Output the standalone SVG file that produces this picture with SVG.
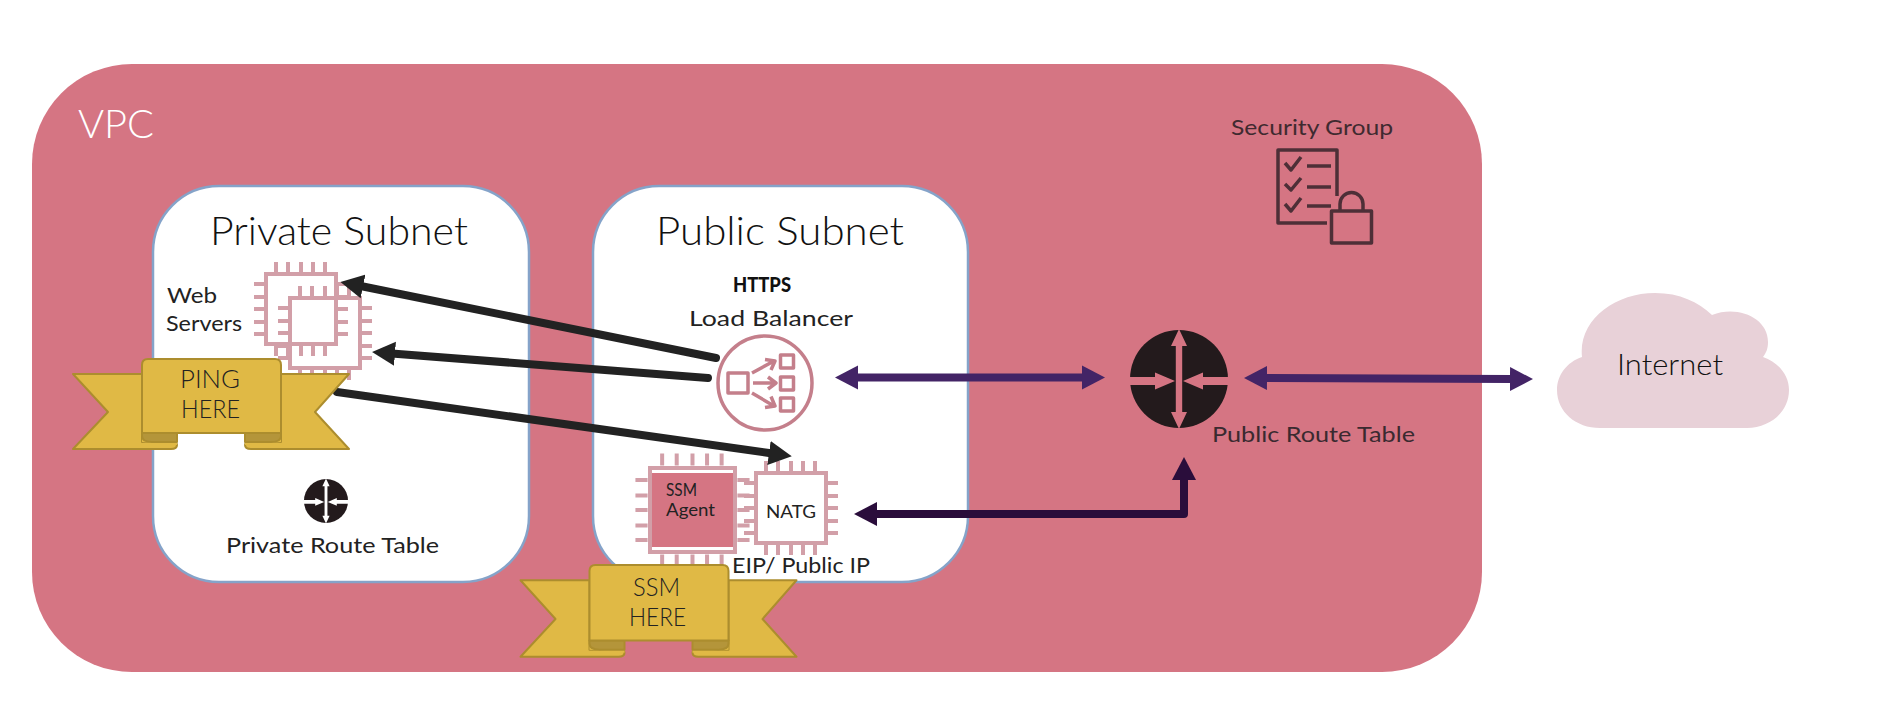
<svg xmlns="http://www.w3.org/2000/svg" xmlns:xlink="http://www.w3.org/1999/xlink" width="1882" height="728" viewBox="0 0 1882 728">
<style>
text{font-family:"Lato","Liberation Sans",sans-serif;fill:#111;font-weight:300;}
.small{font-weight:400;fill:#222;}
.subnet{fill:#fff;stroke:#85a3c9;stroke-width:2.5;}
.chip{fill:none;stroke:#d29fa8;stroke-width:4;vector-effect:non-scaling-stroke;}
.lb{fill:none;stroke:#c47f8b;stroke-width:3.5;stroke-linejoin:round;}
.sec{fill:none;stroke:#4d2f37;stroke-width:3.5;stroke-linejoin:round;}
.rib{fill:#e0b945;stroke:#ac8d2e;stroke-width:2;stroke-linejoin:round;}
.fold{fill:#b4953a;stroke:#ac8d2e;stroke-width:2;stroke-linejoin:round;}
.black{fill:none;stroke:#222;stroke-width:8;stroke-linecap:round;}
.purple{fill:none;stroke:#432466;stroke-width:8;}
.dark{fill:none;stroke:#2a0d3b;stroke-width:8;stroke-linejoin:round;}
.rtxt{fill:#222;}
</style>
<defs>
<marker id="hb" markerUnits="userSpaceOnUse" markerWidth="24" markerHeight="26" refX="0" refY="13" orient="auto"><path d="M0 1L23 13L0 25Z" fill="#222"/></marker>
<marker id="hp" markerUnits="userSpaceOnUse" markerWidth="24" markerHeight="26" refX="0" refY="13" orient="auto-start-reverse"><path d="M0 1L23 13L0 25Z" fill="#432466"/></marker>
<marker id="hd" markerUnits="userSpaceOnUse" markerWidth="24" markerHeight="26" refX="0" refY="13" orient="auto-start-reverse"><path d="M0 1L23 13L0 25Z" fill="#2a0d3b"/></marker>
<path id="chip" class="chip" d="M0 0H70V70H0ZM10 -2V-12M22 -2V-12M35 -2V-12M47 -2V-12M59 -2V-12M10 72V82M22 72V82M35 72V82M47 72V82M59 72V82M-2 10H-12M-2 23H-12M-2 35H-12M-2 48H-12M-2 60H-12M72 10H82M72 23H82M72 35H82M72 48H82M72 60H82"/>
<g id="router">
<circle r="49" fill="#231a1c"/>
<path fill="currentColor" d="M0 -50L8 -33H3.2V33H8L0 50L-8 33H-3.2V-33H-8ZM-50 -2H-24V-6.5L-4 2L-24 10.5V6H-50ZM50 -2H24V-6.5L4 2L24 10.5V6H50Z"/>
</g>
<g id="ribbon">
<path class="rib" d="M142 374H73L108 412L73 449H171Q177 449 177 445Q177 442 172 442H142Z"/>
<path class="rib" d="M281 374H349L315 412L349 449H251Q245 449 245 445Q245 442 250 442H281Z"/>
<path class="rib" d="M177 445V433H142V442ZM245 445V433H281V442Z" style="stroke:none"/>
<path class="fold" d="M142 433V436Q142 442 152 442H177V433Z"/>
<path class="fold" d="M281 433V436Q281 442 271 442H245V433Z"/>
<path class="rib" d="M142 433V365Q142 359 148 359H275Q281 359 281 365V433Z"/>
</g>
</defs>
<g id="vpc">
<rect x="32" y="64" width="1450" height="608" rx="100" ry="100" fill="#d57583"/>
<text x="78" y="138" font-size="39" style="fill:#fff" textLength="76" lengthAdjust="spacingAndGlyphs">VPC</text>
</g>
<g id="private-subnet">
<rect class="subnet" x="153" y="186" width="376" height="396" rx="66"/>
<text x="210" y="245" font-size="39" textLength="258" lengthAdjust="spacingAndGlyphs">Private Subnet</text>
</g>
<g id="public-subnet">
<rect class="subnet" x="593" y="186" width="375" height="396" rx="66"/>
<text x="656" y="245" font-size="39" textLength="248" lengthAdjust="spacingAndGlyphs">Public Subnet</text>
</g>
<g id="web-servers">
<use href="#chip" x="266" y="274"/>
<use href="#chip" x="290" y="298"/>
<text class="small" x="167" y="303" font-size="22" textLength="50" lengthAdjust="spacingAndGlyphs">Web</text>
<text class="small" x="166" y="331" font-size="22" textLength="76" lengthAdjust="spacingAndGlyphs">Servers</text>
</g>
<g id="private-route-table">
<use href="#router" transform="translate(326 501) scale(.45)" style="color:#fff"/>
<text class="small" x="226" y="553" font-size="22" textLength="213" lengthAdjust="spacingAndGlyphs">Private Route Table</text>
</g>
<g id="load-balancer">
<text x="733" y="292" font-size="20" style="font-weight:900" textLength="58" lengthAdjust="spacingAndGlyphs">HTTPS</text>
<text class="small" x="689" y="326" font-size="22" textLength="164" lengthAdjust="spacingAndGlyphs">Load Balancer</text>
<g class="lb">
<circle cx="765" cy="383" r="47"/>
<rect x="728" y="373" width="20" height="20"/>
<rect x="780.500" y="355" width="13" height="13"/>
<rect x="780.500" y="377" width="13" height="13"/>
<rect x="780.500" y="398" width="13" height="13"/>
<path d="M752 373L774 361M765 359.500L775 361L771 370M753 383H775M768 377L776 383L768 389M752 393L774 406M771 396.500L775 406L765 407.500"/>
</g>
</g>
<g id="ssm-agent">
<g transform="translate(650 468) scale(1.214 1.2)"><use href="#chip"/></g>
<rect x="652" y="470.500" width="81" height="79" fill="#fff"/>
<rect x="652" y="473" width="81" height="74" fill="#d57583"/>
<text class="small" x="666" y="496" font-size="17" textLength="31" lengthAdjust="spacingAndGlyphs">SSM</text>
<text class="small" x="666" y="516" font-size="17" textLength="49" lengthAdjust="spacingAndGlyphs">Agent</text>
</g>
<g id="natg">
<use href="#chip" x="756" y="473"/>
<text class="small" x="766" y="518" font-size="18" textLength="50" lengthAdjust="spacingAndGlyphs">NATG</text>
<text class="small" x="732" y="573" font-size="22" textLength="138" lengthAdjust="spacingAndGlyphs">EIP/ Public IP</text>
</g>
<g id="security-group">
<text class="small" x="1231" y="135" font-size="22" style="fill:#3f2a30" textLength="162" lengthAdjust="spacingAndGlyphs">Security Group</text>
<g class="sec">
<path d="M1337 196V150H1278V223H1327"/>
<path d="M1285 163L1291 170L1301 157M1285 184L1291 190L1301 178M1285 204L1291 211L1301 198M1307 166H1331M1307 187H1331M1307 206H1331"/>
<rect x="1331.500" y="211" width="40" height="32"/>
<path d="M1340 211V204A11.500 11.500 0 0 1 1363 204V211"/>
</g>
</g>
<g id="public-route-table">
<use href="#router" transform="translate(1179 379)" style="color:#d57583"/>
<text class="small" x="1212" y="442" font-size="22" style="fill:#3a2a30" textLength="203" lengthAdjust="spacingAndGlyphs">Public Route Table</text>
</g>
<g id="internet">
<path d="M1582 357C1578 320 1615 293 1655 293C1680 293 1698 302 1712 315C1738 305 1768 318 1768 342C1768 349 1766 353 1763 357C1778 362 1789 375 1789 390C1789 412 1770 428 1747 428H1600C1576 428 1557 412 1557 390C1557 375 1567 362 1582 357Z" fill="#e8d1d8"/>
<text x="1617" y="375" font-size="30" textLength="106" lengthAdjust="spacingAndGlyphs">Internet</text>
</g>
<g id="connectors">
<path class="black" d="M716 358L363 286.500" marker-end="url(#hb)"/>
<path class="black" d="M708 378L395 353.700" marker-end="url(#hb)"/>
<path class="black" d="M337 392L769 453" marker-end="url(#hb)"/>
<path class="purple" d="M858 377.500H1082" marker-start="url(#hp)" marker-end="url(#hp)"/>
<path class="purple" d="M1267 378L1510 379" marker-start="url(#hp)" marker-end="url(#hp)"/>
<path class="dark" d="M877 514H1184V480" marker-start="url(#hd)" marker-end="url(#hd)"/>
</g>
<g id="ping-here">
<use href="#ribbon"/>
<text x="180" y="388" font-size="26" class="rtxt" textLength="60" lengthAdjust="spacingAndGlyphs">PING</text>
<text x="181" y="418" font-size="26" class="rtxt" textLength="59" lengthAdjust="spacingAndGlyphs">HERE</text>
</g>
<g id="ssm-here">
<use href="#ribbon" transform="translate(447.500 206) translate(0 359) scale(1 1.02) translate(0 -359)"/>
<text x="633" y="596" font-size="26" class="rtxt" textLength="47" lengthAdjust="spacingAndGlyphs">SSM</text>
<text x="629" y="626" font-size="26" class="rtxt" textLength="57" lengthAdjust="spacingAndGlyphs">HERE</text>
</g>
</svg>
